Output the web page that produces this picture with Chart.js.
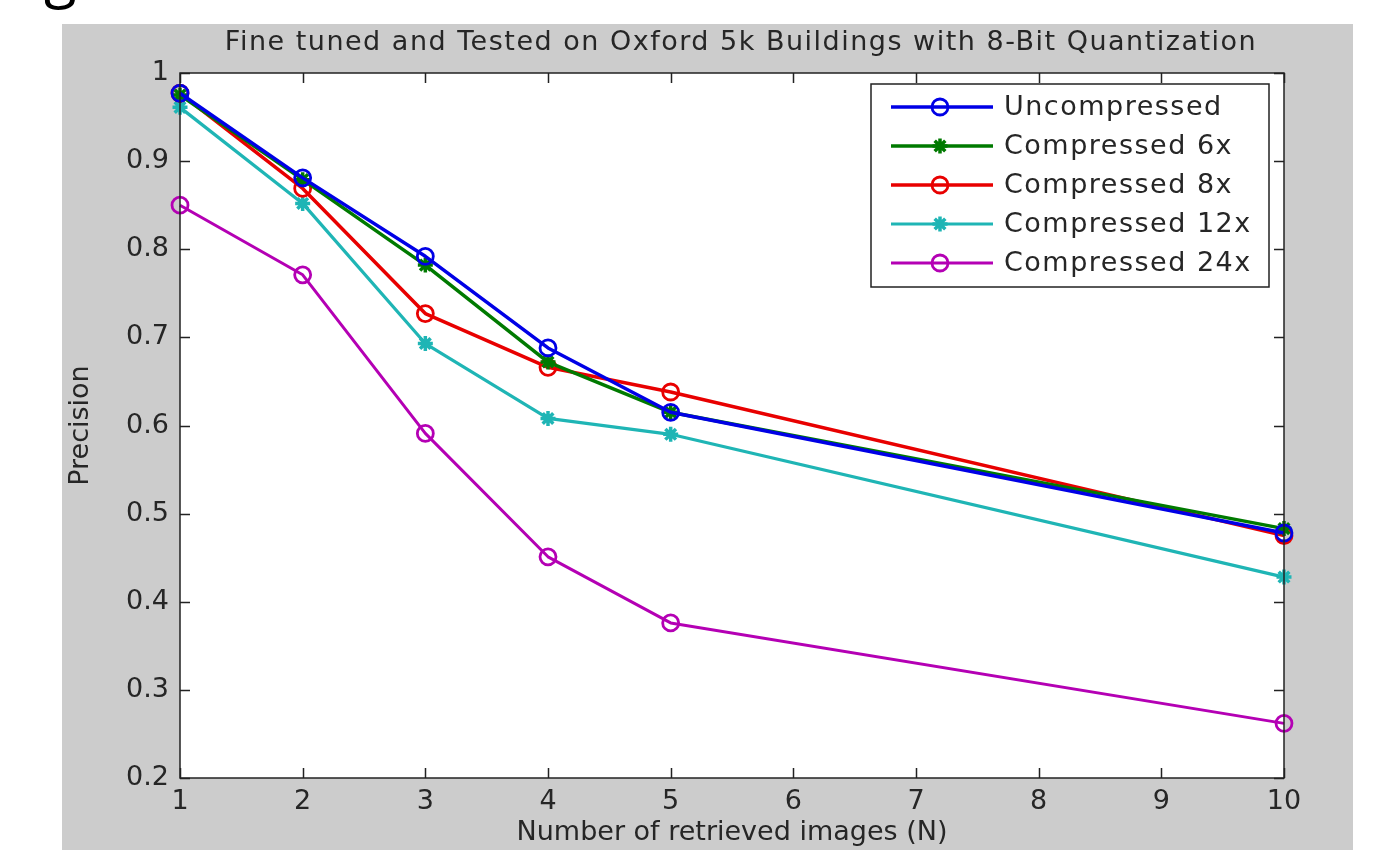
<!DOCTYPE html>
<html>
<head>
<meta charset="utf-8">
<script src="https://cdn.jsdelivr.net/npm/chart.js@4.4.1/dist/chart.umd.min.js"></script>
<style>
  body { margin: 0; background: #fff; }
  canvas { display: block; }
</style>
</head>
<body>
<canvas id="myChart" width="1382" height="850"></canvas>
<script>
// values
const nValues = [1, 2, 3, 4, 5, 10];
const uncompressed = [0.977, 0.881, 0.792, 0.688, 0.615, 0.478];
const compressed6x = [0.975, 0.879, 0.782, 0.672, 0.615, 0.483];
const compressed8x = [0.977, 0.869, 0.727, 0.666, 0.638, 0.475];
const compressed12x = [0.961, 0.852, 0.693, 0.608, 0.590, 0.428];
const compressed24x = [0.850, 0.771, 0.591, 0.451, 0.376, 0.262];
const seriesLabels = ['Uncompressed', 'Compressed 6x', 'Compressed 8x', 'Compressed 12x', 'Compressed 24x'];
const xTicks = [1, 2, 3, 4, 5, 6, 7, 8, 9, 10];
const yTicks = [0.2, 0.3, 0.4, 0.5, 0.6, 0.7, 0.8, 0.9, 1];

const FONT = '"DejaVu Sans", Verdana, sans-serif';
const TEXT = '#262626';

const makeSet = (label, values, color, style, width) => ({
   label: label,
   data: values.map((v, i) => ({x: nValues[i], y: v})),
   borderColor: color,
   backgroundColor: color,
   borderWidth: width,
   pointStyle: style,
   pointRadius: style === 'circle' ? 8 : 7.5,
   pointBorderWidth: style === 'circle' ? 2.8 : 3.5,
   pointBackgroundColor: style === 'circle' ? 'rgba(0,0,0,0)' : color,
   pointBorderColor: color,
   tension: 0,
   clip: false
});

const datasets = [
   makeSet(seriesLabels[0], uncompressed, '#0000e6', 'circle', 3.5),
   makeSet(seriesLabels[1], compressed6x, '#007a00', 'star', 3.5),
   makeSet(seriesLabels[2], compressed8x, '#e80000', 'circle', 3.5),
   makeSet(seriesLabels[3], compressed12x, '#1fb5b5', 'star', 3.2),
   makeSet(seriesLabels[4], compressed24x, '#b400b4', 'circle', 3)
];

// matlab style figure: grey frame, white axes, ticks inside, legend in the corner
const matlabLook = {
   id: 'matlabLook',
   beforeDraw(chart) {
      const {ctx, chartArea: a} = chart;
      ctx.save();
      ctx.fillStyle = '#ffffff';
      ctx.fillRect(0, 0, chart.width, chart.height);
      ctx.fillStyle = '#cccccc';
      ctx.fillRect(62, 24, 1291, 826);
      ctx.fillStyle = '#ffffff';
      ctx.fillRect(a.left, a.top, a.right - a.left, a.bottom - a.top);
      // bit of slide text cut off above the figure
      ctx.fillStyle = '#000';
      ctx.font = '60px "Open Sans", sans-serif';
      ctx.textBaseline = 'alphabetic';
      ctx.fillText('g', 44, -4);
      // title
      ctx.fillStyle = TEXT;
      ctx.font = '27px ' + FONT;
      ctx.letterSpacing = '1.5px';
      ctx.textAlign = 'center';
      ctx.fillText('Fine tuned and Tested on Oxford 5k Buildings with 8-Bit Quantization', (a.left + a.right) / 2 + 9, 50);
      ctx.restore();
   },
   afterDraw(chart) {
      const {ctx, chartArea: a, scales: {x, y}} = chart;
      ctx.save();
      ctx.strokeStyle = '#222';
      ctx.lineWidth = 1.5;
      ctx.beginPath();
      xTicks.forEach(v => {
         const px = Math.round(x.getPixelForValue(v)) + 0.5;
         ctx.moveTo(px, a.bottom); ctx.lineTo(px, a.bottom - 10);
         ctx.moveTo(px, a.top); ctx.lineTo(px, a.top + 10);
      });
      yTicks.forEach(v => {
         const py = Math.round(y.getPixelForValue(v)) + 0.5;
         ctx.moveTo(a.left, py); ctx.lineTo(a.left + 10, py);
         ctx.moveTo(a.right, py); ctx.lineTo(a.right - 10, py);
      });
      ctx.stroke();
      ctx.strokeRect(a.left, a.top, a.right - a.left, a.bottom - a.top);

      // legend box
      const bx = a.right - 413, by = a.top + 11, bw = 398, bh = 203;
      ctx.fillStyle = '#fff';
      ctx.fillRect(bx, by, bw, bh);
      ctx.strokeStyle = '#222';
      ctx.lineWidth = 1.5;
      ctx.strokeRect(bx, by, bw, bh);
      ctx.font = '27px ' + FONT;
      ctx.textBaseline = 'middle';
      ctx.textAlign = 'left';
      chart.data.datasets.forEach((ds, i) => {
         const ry = by + 23 + i * 39;
         ctx.strokeStyle = ds.borderColor;
         ctx.lineWidth = ds.borderWidth;
         ctx.beginPath();
         ctx.moveTo(bx + 20, ry); ctx.lineTo(bx + 122, ry);
         ctx.stroke();
         ctx.lineWidth = ds.pointBorderWidth;
         ctx.fillStyle = ds.pointBackgroundColor;
         Chart.helpers.drawPoint(ctx, {pointStyle: ds.pointStyle, radius: ds.pointRadius, rotation: 0, borderWidth: ds.pointBorderWidth}, bx + 69, ry);
         ctx.fillStyle = TEXT;
         ctx.letterSpacing = '1.5px';
         ctx.fillText(ds.label, bx + 133, ry + 1);
         ctx.letterSpacing = '0px';
      });
      ctx.restore();
   }
};

const ctx = document.getElementById('myChart').getContext('2d');
const chart = new Chart(ctx, {
   type: 'line',
   data: {datasets: datasets},
   options: {
      responsive: false,
      animation: false,
      layout: {padding: {left: 62, top: 73, right: 98, bottom: 0}},
      plugins: {legend: {display: false}, tooltip: {enabled: false}},
      elements: {line: {borderJoinStyle: 'round'}},
      scales: {
         x: {
            type: 'linear',
            min: 1, max: 10,
            afterFit: s => { s.height = 72; },
            afterBuildTicks: s => { s.ticks = xTicks.map(v => ({value: v})); },
            grid: {display: false, drawTicks: false},
            border: {display: false},
            ticks: {color: TEXT, padding: 8, font: {family: FONT, size: 27}, maxRotation: 0, callback: v => String(v)},
            title: {display: true, text: 'Number of retrieved images (N)', color: TEXT, padding: {top: 0, bottom: 1}, font: {family: FONT, size: 27}}
         },
         y: {
            type: 'linear',
            min: 0.2, max: 1,
            afterFit: s => { s.width = 118; },
            afterBuildTicks: s => { s.ticks = yTicks.map(v => ({value: v})); },
            grid: {display: false, drawTicks: false},
            border: {display: false},
            ticks: {color: TEXT, padding: 11, font: {family: FONT, size: 27}, callback: v => v === 1 ? '1' : v.toFixed(1)},
            title: {display: true, text: 'Precision', color: TEXT, padding: {top: 3, bottom: 0}, font: {family: FONT, size: 27}}
         }
      }
   },
   plugins: [matlabLook]
});
</script>
</body>
</html>
